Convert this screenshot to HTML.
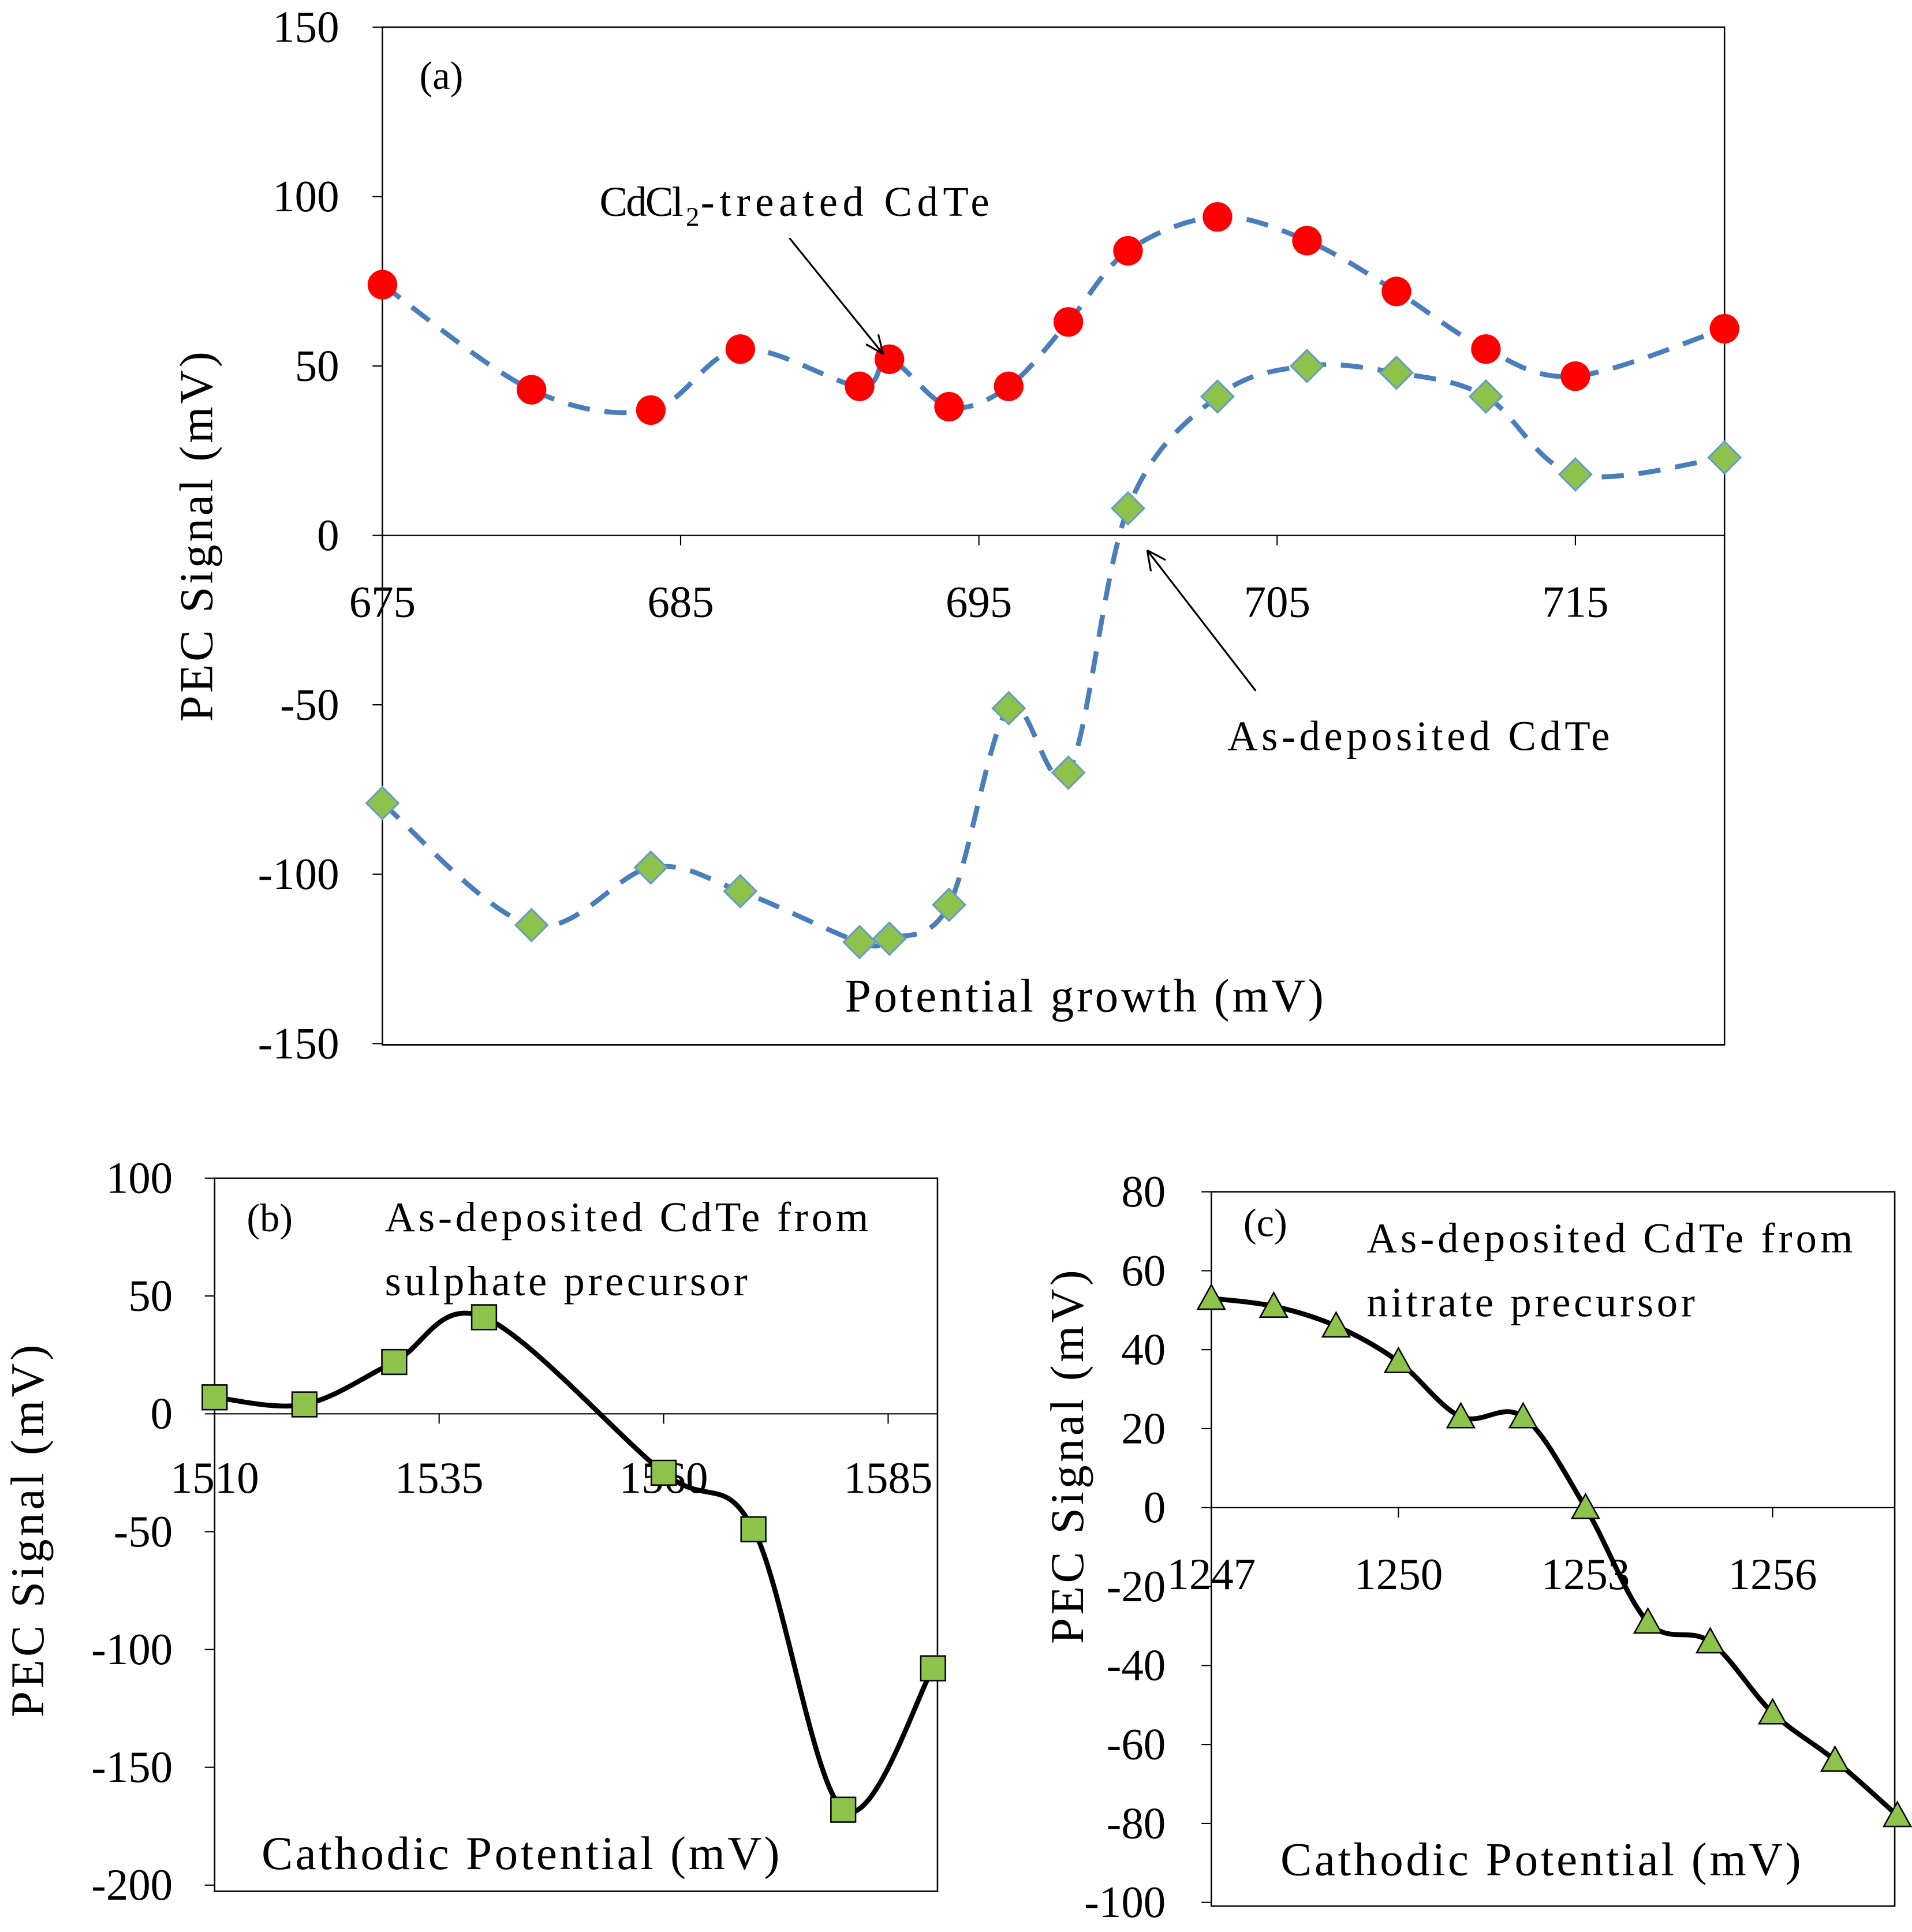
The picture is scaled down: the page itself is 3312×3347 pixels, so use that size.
<!DOCTYPE html>
<html><head><meta charset="utf-8"><style>
html,body{margin:0;padding:0;background:#fff}
svg{display:block}
text{font-family:"Liberation Serif",serif;fill:#000}
</style></head><body>
<svg id="s" width="3312" height="3347" viewBox="0 0 1550 1566" preserveAspectRatio="none" xmlns="http://www.w3.org/2000/svg">
<rect width="1550" height="1566" fill="#fff"/>
<g id="ga"></g>
<g id="gb"></g>
<g id="gc"></g>
</svg>
<script>
// Chart (a) data
const aX = [675,680,684,687,691,692,694,696,698,700,703,706,709,712,715,720];
const aRed = [74,43,37,55,44,52,38,44,63,84,94,87,72,55,47,61];
const aGreen = [-79,-115,-98,-105,-120,-119,-109,-51,-70,8,41,50,48,41,18,23];
const aXTicks = [675,685,695,705,715];
const aYTicks = [150,100,50,0,-50,-100,-150];
// Chart (b) data
const bX = [1510,1520,1530,1540,1560,1570,1580,1590];
const bY = [7,4,22,41,-25,-49,-168,-108];
const bXTicks = [1510,1535,1560,1585];
const bYTicks = [100,50,0,-50,-100,-150,-200];
// Chart (c) data
const cX = [1247,1248,1249,1250,1251,1252,1253,1254,1255,1256,1257,1258];
const cY = [53,51,46,37,23,23,0,-29,-34,-52,-64,-78];
const cXTicks = [1247,1250,1253,1256];
const cYTicks = [80,60,40,20,0,-20,-40,-60,-80,-100];

const NS="http://www.w3.org/2000/svg";
function mk(parent,tag,attrs,txt){const e=document.createElementNS(NS,tag);for(const k in attrs)e.setAttribute(k,attrs[k]);if(txt!==undefined)e.textContent=txt;parent.appendChild(e);return e;}
function lin(d0,d1,r0,r1){return v=>r0+(v-d0)*(r1-r0)/(d1-d0);}
function spline(pts){let d=`M${pts[0][0]},${pts[0][1]}`;for(let i=0;i<pts.length-1;i++){const p0=pts[Math.max(0,i-1)],p1=pts[i],p2=pts[i+1],p3=pts[Math.min(pts.length-1,i+2)];const t=0.5/3;const c1=[p1[0]+(p2[0]-p0[0])*t,p1[1]+(p2[1]-p0[1])*t];const c2=[p2[0]-(p3[0]-p1[0])*t,p2[1]-(p3[1]-p1[1])*t];d+=` C${c1[0]},${c1[1]} ${c2[0]},${c2[1]} ${p2[0]},${p2[1]}`;}return d;}

function axes(g,L,R,T,B,x,y,xt,yt,fs,xlabY,ylabX){
  const box=mk(g,'rect',{x:L,y:T,width:R-L,height:B-T,fill:'none',stroke:'#000','stroke-width':1.2});
  
  
  const y0=y(0);
  const ax=mk(g,'line',{x1:L,x2:R,y1:y0,y2:y0,stroke:'#000','stroke-width':1});
  
  
  yt.forEach(v=>{mk(g,'line',{x1:L-8,x2:L,y1:y(v),y2:y(v),stroke:'#000'});
    const t=mk(g,'text',{x:ylabX,y:y(v)+fs*0.33,'text-anchor':'end','font-size':fs},String(v));
    
    });
  xt.forEach(v=>{mk(g,'line',{x1:x(v),x2:x(v),y1:y0,y2:y0+8,stroke:'#000'});
    const t=mk(g,'text',{x:x(v),y:xlabY,'text-anchor':'middle','font-size':fs},String(v));
    
    });
}
function label(g,x,y,s,fs,name,rot,len){const a={x:x,y:y,'font-size':fs};if(rot){a.transform=`rotate(-90 ${x} ${y})`;a['text-anchor']='middle';}if(len){a.textLength=len;a.lengthAdjust='spacing';}const t=mk(g,'text',a,s);return t;}

// ---- Chart a
(function(){
  const g=document.getElementById('ga');
  const x=lin(675,720,310,1398), y=lin(0,150,434,22);
  axes(g,310,1398,22,847,x,y,aXTicks,aYTicks,36,500,275);
  const rp=aX.map((v,i)=>[x(v),y(aRed[i])]), gp=aX.map((v,i)=>[x(v),y(aGreen[i])]);
  const l1=mk(g,'path',{d:spline(rp),fill:'none',stroke:'#4a7ebb','stroke-width':4,'stroke-dasharray':'18,12'});
  
  
  const l2=mk(g,'path',{d:spline(gp),fill:'none',stroke:'#4a7ebb','stroke-width':4,'stroke-dasharray':'18,12'});
  
  
  rp.forEach(p=>{const c=mk(g,'circle',{cx:p[0],cy:p[1],r:12,fill:'#f00'});
    
    });
  gp.forEach(p=>{const s=13;const c=mk(g,'polygon',{points:`${p[0]},${p[1]-s} ${p[0]+s},${p[1]} ${p[0]},${p[1]+s} ${p[0]-s},${p[1]}`,fill:'#8dc34a',stroke:'#6a9bc8','stroke-width':1.5});
    
    });
  label(g,340,72,'(a)',32,'panel-label-a');
  label(g,486,175,'CdCl',34,'cdcl2-annotation',false,68);
  label(g,556,183,'2',22,'cdcl2-subscript');
  label(g,568,175,'-treated CdTe',34,'cdcl2-annotation-rest',false,234);
  mk(g,'line',{x1:640,y1:193,x2:716,y2:287,stroke:'#000','stroke-width':1.5});
  mk(g,'path',{d:'M716,287 l-4,-16 M716,287 l-14,-8',stroke:'#000','stroke-width':1.5,fill:'none'});
  label(g,995,608,'As-deposited CdTe',34,'as-deposited-annotation',false,310);
  mk(g,'line',{x1:1018,y1:560,x2:930,y2:446,stroke:'#000','stroke-width':1.5});
  mk(g,'path',{d:'M930,446 l3,17 M930,446 l15,8',stroke:'#000','stroke-width':1.5,fill:'none'});
  label(g,685,820,'Potential growth (mV)',38,'x-axis-title',false,388);
  label(g,172,435,'PEC Signal (mV)',38,'y-axis-title',true,300);
})();
// ---- Chart b
(function(){
  const g=document.getElementById('gb');
  const x=lin(1510,1585,174,720), y=lin(0,100,1146,955);
  axes(g,174,760,955,1533,x,y,bXTicks,bYTicks,36,1210,140);
  const p=bX.map((v,i)=>[x(v),y(bY[i])]);
  const l=mk(g,'path',{d:spline(p),fill:'none',stroke:'#000','stroke-width':4});
  
  
  p.forEach(q=>{const s=10;const r=mk(g,'rect',{x:q[0]-s,y:q[1]-s,width:2*s,height:2*s,fill:'#8dc34a',stroke:'#000','stroke-width':1.2});
    
    });
  label(g,200,998,'(b)',32,'panel-label-b');
  label(g,312,998,'As-deposited CdTe from',34,'annotation-b-line1',false,392);
  label(g,312,1050,'sulphate precursor',34,'annotation-b-line2',false,294);
  label(g,212,1515,'Cathodic Potential (mV)',38,'x-axis-title-b',false,420);
  label(g,35,1241,'PEC Signal (mV)',38,'y-axis-title-b',true,302);
})();
// ---- Chart c
(function(){
  const g=document.getElementById('gc');
  const x=lin(1247,1256,982,1437), y=lin(0,80,1222,966);
  axes(g,982,1536,966,1545,x,y,cXTicks,cYTicks,36,1288,945);
  const p=cX.map((v,i)=>[x(v),y(cY[i])]);
  const l=mk(g,'path',{d:spline(p),fill:'none',stroke:'#000','stroke-width':4});
  
  
  p.forEach(q=>{const s=11;const r=mk(g,'polygon',{points:`${q[0]},${q[1]-s} ${q[0]+s},${q[1]+s*0.8} ${q[0]-s},${q[1]+s*0.8}`,fill:'#8dc34a',stroke:'#000','stroke-width':1.2});
    
    });
  label(g,1008,1002,'(c)',32,'panel-label-c');
  label(g,1108,1015,'As-deposited CdTe from',34,'annotation-c-line1',false,394);
  label(g,1108,1067,'nitrate precursor',34,'annotation-c-line2',false,266);
  label(g,1038,1520,'Cathodic Potential (mV)',38,'x-axis-title-c',false,422);
  label(g,878,1181,'PEC Signal (mV)',38,'y-axis-title-c',true,303);
})();
</script>
</body></html>
